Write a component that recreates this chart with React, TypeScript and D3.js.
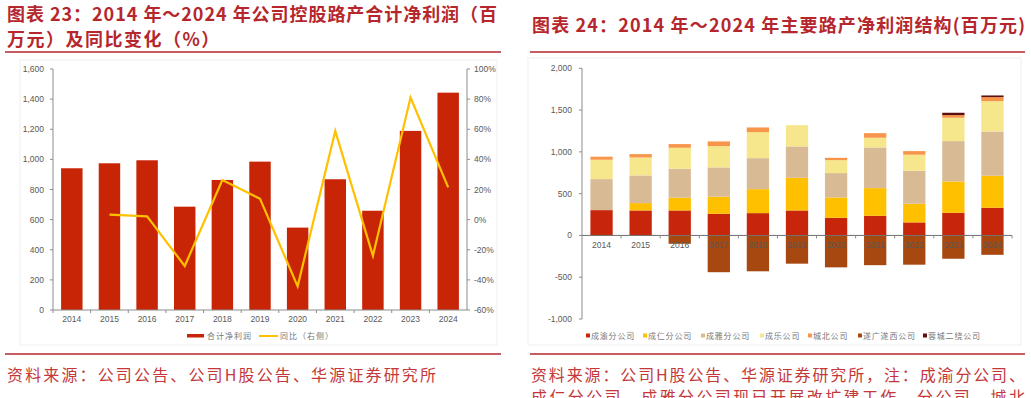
import * as d3 from 'd3'

// ---- data ----
const years = ['2014', '2015', '2016', '2017', '2018', '2019', '2020', '2021', '2022', '2023', '2024']

// chart 23: total net profit (RMB mn) and yoy (%)
const totalProfit = [941, 974, 994, 686, 863, 985, 547, 868, 659, 1189, 1443]
const yoy = [null, 3.3, 2.2, -30.8, 26.3, 13.9, -44.3, 58.8, -24.0, 81.0, 21.4]
const leftTicks = [0, 200, 400, 600, 800, 1000, 1200, 1400, 1600]
const rightTicks = [-60, -40, -20, 0, 20, 40, 60, 80, 100]

// chart 24: net profit by road asset (RMB mn)
const assetNames = ['成渝分公司', '成仁分公司', '成雅分公司', '成乐公司', '城北公司', '遂广遂西公司', '蓉城二绕公司']
const chengyu = [303, 299, 299, 259, 267, 299, 211, 235, 156, 271, 331]
const chengren = [0, 88, 152, 204, 287, 391, 244, 331, 223, 375, 383]
const chengya = [371, 331, 347, 351, 371, 375, 291, 487, 395, 483, 530]
const chengle = [232, 215, 251, 255, 311, 255, 155, 116, 192, 279, 363]
const chengbei = [36, 40, 44, 56, 56, 0, 28, 55, 43, 32, 48]
const suiguang = [0, 0, -100, -440, -429, -338, -382, -356, -350, -279, -232]
const rongcheng = [0, 0, 0, 0, 0, 0, 0, 0, 0, 28, 20]
const assetTicks = [-1000, -500, 0, 500, 1000, 1500, 2000]

const assetColors = ['#c8260a', '#ffc000', '#d8bb95', '#f6e78c', '#f7964a', '#a6480f', '#5e1010']

const titleRed = '#b5272d'
const srcRed = '#c4383a'
const axisGray = '#8c8c8c'
const labelGray = '#595959'
const cjk = '"Noto Sans CJK SC", sans-serif'
const latin = '"Liberation Sans", Arial, sans-serif'

const fmt = d3.format(',')

function LeftChart() {
  const x = d3.scaleBand().domain(years).range([53, 467]).paddingInner(0.43).paddingOuter(0.215)
  const yL = d3.scaleLinear().domain([0, 1600]).range([310, 69])
  const yR = d3.scaleLinear().domain([-60, 100]).range([310, 69])
  const cx = (y: string) => (x(y) as number) + x.bandwidth() / 2

  const line = d3
    .line<number | null>()
    .defined((d) => d !== null)
    .x((_, i) => cx(years[i]))
    .y((d) => yR(d as number))

  return (
    <g>
      <rect x={20} y={60} width={477} height={285} fill="none" stroke="#efefef" />
      {years.map((yr, i) => (
        <rect key={yr} x={x(yr)} y={yL(totalProfit[i])} width={x.bandwidth()} height={yL(0) - yL(totalProfit[i])} fill="#c82506" />
      ))}
      <path d={line(yoy) || ''} fill="none" stroke="#ffc000" strokeWidth={2.2} strokeLinejoin="miter" />

      {/* left axis */}
      <line x1={53} x2={53} y1={yL(1600)} y2={yL(0)} stroke={axisGray} />
      {leftTicks.map((t) => (
        <g key={t}>
          <line x1={50} x2={53} y1={yL(t)} y2={yL(t)} stroke={axisGray} />
          <text x={44} y={yL(t) + 3} fontSize={8.5} textAnchor="end" fill={labelGray} fontFamily={latin}>
            {fmt(t)}
          </text>
        </g>
      ))}
      {/* right axis */}
      <line x1={467} x2={467} y1={yR(100)} y2={yR(-60)} stroke={axisGray} />
      {rightTicks.map((t) => (
        <g key={t}>
          <line x1={467} x2={470} y1={yR(t)} y2={yR(t)} stroke={axisGray} />
          <text x={474} y={yR(t) + 3} fontSize={8.5} fill={labelGray} fontFamily={latin}>
            {t}%
          </text>
        </g>
      ))}
      {/* x axis */}
      <line x1={53} x2={467} y1={310} y2={310} stroke={axisGray} />
      {years.map((yr) => (
        <g key={yr}>
          <line x1={(x(yr) as number) - (x.step() - x.bandwidth()) / 2} x2={(x(yr) as number) - (x.step() - x.bandwidth()) / 2} y1={310} y2={313} stroke={axisGray} />
          <text x={cx(yr)} y={322} fontSize={8.5} textAnchor="middle" fill={labelGray} fontFamily={latin}>
            {yr}
          </text>
        </g>
      ))}

      {/* legend */}
      <rect x={187} y={334} width={17} height={3.5} fill="#c82506" />
      <text x={207} y={339} fontSize={8} fill="#777" fontFamily={cjk} letterSpacing={1}>
        合计净利润
      </text>
      <line x1={259} x2={278} y1={336} y2={336} stroke="#ffc000" strokeWidth={2} />
      <text x={280} y={339} fontSize={8} fill="#777" fontFamily={cjk} letterSpacing={1}>
        同比（右侧）
      </text>
    </g>
  )
}

function RightChart() {
  const x = d3.scaleBand().domain(years).range([582, 1012]).paddingInner(0.43).paddingOuter(0.215)
  const y = d3.scaleLinear().domain([-1000, 2000]).range([319, 68.3])
  const series = [chengyu, chengren, chengya, chengle, chengbei, suiguang, rongcheng]
  const rows = years.map((yr, i) => {
    const r: Record<string, number> = {}
    assetNames.forEach((n, k) => (r[n] = series[k][i]))
    return r
  })
  const stacked = d3.stack<Record<string, number>>().keys(assetNames).offset(d3.stackOffsetDiverging)(rows)

  return (
    <g>
      <rect x={528} y={58} width={493} height={287} fill="none" stroke="#efefef" />
      {stacked.map((s, k) => (
        <g key={s.key} fill={assetColors[k]}>
          {s.map((d, i) =>
            d[1] - d[0] === 0 ? null : (
              <rect key={i} x={x(years[i])} y={y(Math.max(d[0], d[1]))} width={x.bandwidth()} height={Math.abs(y(d[0]) - y(d[1]))} />
            ),
          )}
        </g>
      ))}

      <line x1={582} x2={582} y1={y(2000)} y2={y(-1000)} stroke={axisGray} />
      {assetTicks.map((t) => (
        <g key={t}>
          <line x1={579} x2={582} y1={y(t)} y2={y(t)} stroke={axisGray} />
          <text x={572} y={y(t) + 3} fontSize={8.5} textAnchor="end" fill={labelGray} fontFamily={latin}>
            {fmt(t).replace('−', '-')}
          </text>
        </g>
      ))}
      <line x1={582} x2={1012} y1={y(0)} y2={y(0)} stroke="#6f6f6f" />
      {years.map((yr) => {
        const bx = (x(yr) as number) + x.bandwidth() + (x.step() - x.bandwidth()) / 2
        return (
          <g key={yr}>
            <line x1={bx} x2={bx} y1={y(0)} y2={y(0) + 3} stroke={axisGray} />
            <text x={(x(yr) as number) + x.bandwidth() / 2} y={y(0) + 13} fontSize={8.5} textAnchor="middle" fill={labelGray} fontFamily={latin}>
              {yr}
            </text>
          </g>
        )
      })}

      {/* legend */}
      {assetNames.map((n, k) => {
        const lx = [586, 643, 701, 760, 808, 858, 923][k]
        return (
          <g key={n}>
            <rect x={lx} y={333.5} width={4} height={4} fill={assetColors[k]} />
            <text x={lx + 5} y={339} fontSize={8} fill="#777" fontFamily={cjk} letterSpacing={0.8}>
              {n}
            </text>
          </g>
        )
      })}
    </g>
  )
}

export default function App() {
  return (
    <div style={{ position: 'absolute', left: 0, top: 0 }}>
      <svg width={1031} height={398} style={{ display: 'block', background: '#fff' }}>
        {/* titles */}
        <text x={7} y={21} fontSize={18} fontWeight="bold" fill={titleRed} fontFamily={cjk} textLength={490} lengthAdjust="spacing">
          图表 23：2014 年～2024 年公司控股路产合计净利润（百
        </text>
        <text x={7} y={46} fontSize={18} fontWeight="bold" fill={titleRed} fontFamily={cjk} letterSpacing={1.5}>
          万元）及同比变化（%）
        </text>
        <line x1={5} x2={501} y1={52} y2={52} stroke={titleRed} strokeWidth={1.6} />

        <text x={532} y={32} fontSize={18} fontWeight="bold" fill={titleRed} fontFamily={cjk} textLength={493} lengthAdjust="spacing">
          图表 24：2014 年～2024 年主要路产净利润结构(百万元)
        </text>
        <line x1={530} x2={1025} y1={52} y2={52} stroke={titleRed} strokeWidth={1.6} />

        <LeftChart />
        <RightChart />

        {/* sources */}
        <line x1={5} x2={501} y1={354} y2={354} stroke={titleRed} strokeWidth={1.6} />
        <text x={7} y={381} fontSize={16} fill={srcRed} fontFamily={cjk} textLength={429} lengthAdjust="spacing">
          资料来源：公司公告、公司H股公告、华源证券研究所
        </text>
        <line x1={530} x2={1025} y1={354} y2={354} stroke={titleRed} strokeWidth={1.6} />
        <text x={531} y={381} fontSize={16} fill={srcRed} fontFamily={cjk} textLength={494} lengthAdjust="spacing">
          资料来源：公司H股公告、华源证券研究所，注：成渝分公司、
        </text>
        <text x={531} y={403} fontSize={16} fill={srcRed} fontFamily={cjk} textLength={494} lengthAdjust="spacing">
          成仁分公司、成雅分公司现已开展改扩建工作，分公司、城北
        </text>
      </svg>
    </div>
  )
}
